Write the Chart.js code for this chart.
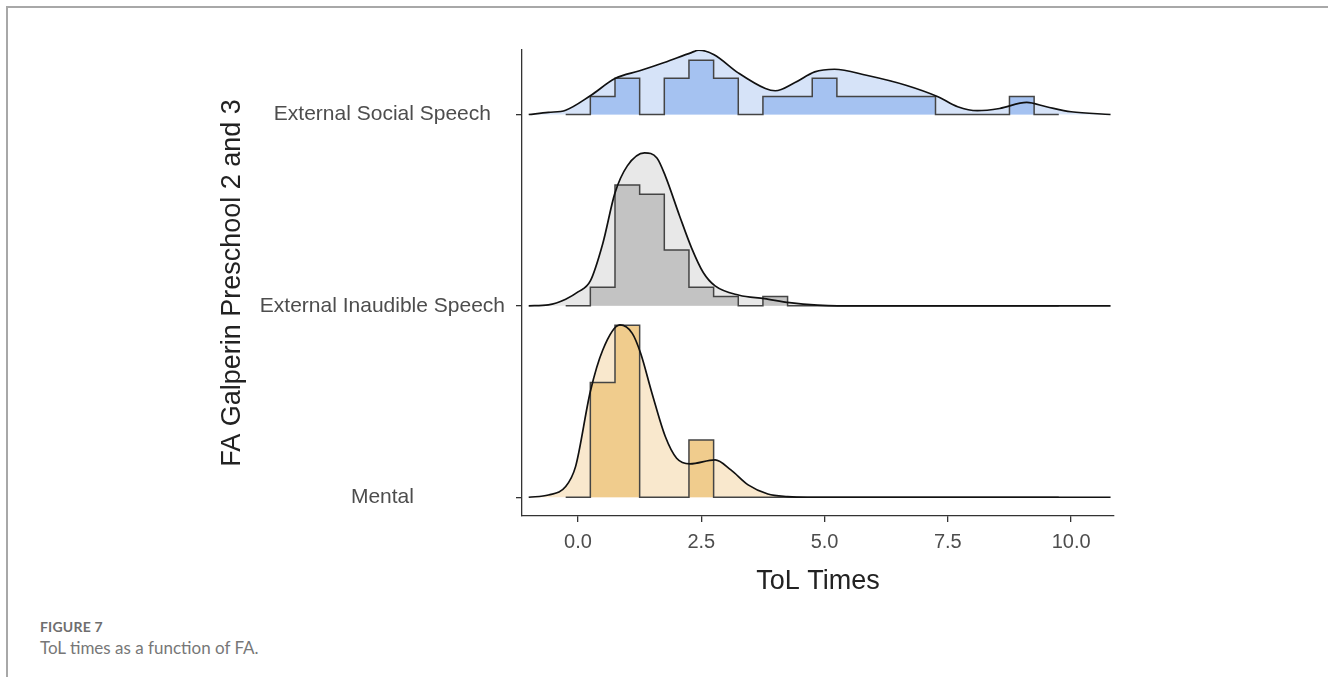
<!DOCTYPE html>
<html>
<head>
<meta charset="utf-8">
<title>ToL times as a function of FA</title>
<script src="https://cdn.jsdelivr.net/npm/chart.js@4.4.1/dist/chart.umd.min.js"></script>
<style>
  html, body { margin: 0; padding: 0; background: #fff; }
  body { width: 1328px; height: 677px; position: relative; overflow: hidden; }
  .frame { position: absolute; left: 6px; top: 6px; right: -10px; bottom: -10px;
           border-left: 2px solid #a8a8a8; border-top: 2px solid #a8a8a8; }
  #chart-box { position: absolute; left: 0; top: 0; width: 1328px; height: 600px; }
  .caption { position: absolute; left: 40px; top: 618px; font-family: Lato, "Open Sans", sans-serif; color: #6e6e6e; }
  .caption .fig { font-size: 14px; font-weight: 700; letter-spacing: 0.2px; }
  .caption .txt { font-size: 17px; margin-top: 2px; color: #777; }
</style>
</head>
<body>
<div class="frame"></div>
<div id="chart-box"><canvas id="ridges" width="1328" height="600"></canvas></div>
<div class="caption">
  <div class="fig">FIGURE 7</div>
  <div class="txt">ToL times as a function of FA.</div>
</div>

<script>
// Groups, bottom row first
const groups = ["Mental", "External Inaudible Speech", "External Social Speech"];

// Histogram bins (width 0.5), left edges plus the closing edge
const binWidth = 0.5;
const binEdges = [-0.25, 0.25, 0.75, 1.25, 1.75, 2.25, 2.75, 3.25, 3.75, 4.25,
                  4.75, 5.25, 5.75, 6.25, 6.75, 7.25, 7.75, 8.25, 8.75, 9.25, 9.75];

// Counts per bin
const countsMental = [0, 2, 3, 0, 0, 1, 0, 0, 0, 0, 0, 0, 0, 0, 0, 0, 0, 0, 0, 0];
const countsInaudible = [0, 2, 13, 12, 6, 2, 1, 0, 1, 0, 0, 0, 0, 0, 0, 0, 0, 0, 0, 0];
const countsSocial = [0, 1, 2, 0, 2, 3, 2, 0, 1, 1, 2, 1, 1, 1, 1, 0, 0, 0, 1, 0];

// Kernel density estimates (x, density)
const densXMental = [-1.0, -0.6, -0.25, -0.05, 0.25, 0.5, 0.85, 1.1, 1.27, 1.5, 1.77, 2.0, 2.27, 2.78, 3.1, 3.45, 3.85, 4.25, 4.65, 10.8];
const densYMental = [0, 0.013, 0.062, 0.178, 0.615, 0.855, 1.002, 0.953, 0.837, 0.605, 0.353, 0.227, 0.194, 0.217, 0.159, 0.072, 0.019, 0.004, 0, 0];

const densXInaudible = [-1.0, -0.6, -0.25, 0.0, 0.25, 0.5, 0.75, 1.0, 1.35, 1.6, 1.77, 2.06, 2.3, 2.54, 2.78, 3.27, 3.78, 4.29, 4.86, 5.26, 10.8];
const densYInaudible = [0, 0.006, 0.039, 0.081, 0.145, 0.36, 0.657, 0.814, 0.890, 0.860, 0.756, 0.523, 0.339, 0.194, 0.116, 0.062, 0.042, 0.019, 0.004, 0, 0];

const densXSocial = [-1.0, -0.6, -0.25, 0.25, 0.75, 1.25, 1.75, 2.3, 2.45, 2.75, 3.25, 3.8, 4.0, 4.4, 4.8, 5.2, 5.85, 6.65, 7.3, 7.7, 8.1, 8.55, 9.1, 9.5, 10.0, 10.8];
const densYSocial = [0, 0.012, 0.025, 0.109, 0.209, 0.254, 0.302, 0.360, 0.374, 0.349, 0.242, 0.151, 0.138, 0.186, 0.248, 0.263, 0.228, 0.170, 0.103, 0.045, 0.022, 0.035, 0.070, 0.045, 0.016, 0];

// X axis ticks
const xTicks = [0, 2.5, 5, 7.5, 10];
const xTickLabels = ["0.0", "2.5", "5.0", "7.5", "10.0"];

// How tall one unit of density is, in rows
const rowPerDensity = 172 / 191.4;

const ridges = [
  { row: 0, counts: countsMental, dx: densXMental, dy: densYMental, area: "#f9e8cd", bars: "#f0cc8d" },
  { row: 1, counts: countsInaudible, dx: densXInaudible, dy: densYInaudible, area: "#e8e8e8", bars: "#c3c3c3" },
  { row: 2, counts: countsSocial, dx: densXSocial, dy: densYSocial, area: "#d6e3f8", bars: "#a5c2f1" },
];

const datasets = [];
ridges.forEach(r => {
  const total = r.counts.reduce((a, b) => a + b, 0);
  const histPts = binEdges.map((x, i) => {
    const c = i < r.counts.length ? r.counts[i] : 0;
    return { x: x, y: r.row + c / (total * binWidth) * rowPerDensity };
  });
  const densPts = r.dx.map((x, i) => ({ x: x, y: r.row + r.dy[i] * rowPerDensity }));

  // density area underneath
  datasets.push({
    data: densPts, fill: { value: r.row }, backgroundColor: r.area,
    borderWidth: 0, pointRadius: 0, cubicInterpolationMode: "monotone", order: 3,
  });
  // histogram outline and bars
  datasets.push({
    data: histPts, stepped: "before", fill: { value: r.row }, backgroundColor: r.bars,
    borderColor: "#444444", borderWidth: 1.5, pointRadius: 0, order: 2,
  });
  // density curve on top
  datasets.push({
    data: densPts, fill: false, borderColor: "#111111", borderWidth: 1.7,
    pointRadius: 0, cubicInterpolationMode: "monotone", order: 1,
  });
});

const axisFont = "'Liberation Sans', Arial, sans-serif";

new Chart(document.getElementById("ridges"), {
  type: "line",
  data: { datasets: datasets },
  options: {
    responsive: false,
    animation: false,
    devicePixelRatio: 1,
    layout: { padding: { top: 50, right: 214, left: 0, bottom: 0 } },
    plugins: { legend: { display: false }, tooltip: { enabled: false } },
    scales: {
      x: {
        type: "linear", min: -1.136, max: 10.87,
        afterBuildTicks: s => { s.ticks = xTicks.map(v => ({ value: v })); },
        afterFit: s => { s.height = 84; },
        ticks: {
          autoSkip: false, maxRotation: 0, padding: 8, color: "#4d4d4d",
          font: { family: axisFont, size: 20 },
          callback: (v, i) => xTickLabels[i],
        },
        grid: { display: true, drawOnChartArea: false, drawTicks: true, tickLength: 6, color: "#333", lineWidth: 1.3 },
        border: { display: true, color: "#333", width: 1.3 },
        title: {
          display: true, text: "ToL Times", color: "#222",
          font: { family: axisFont, size: 27 }, padding: { top: 0, bottom: 2 },
        },
      },
      y: {
        type: "linear", min: -0.098, max: 2.337,
        afterBuildTicks: s => { s.ticks = [0, 1, 2].map(v => ({ value: v })); },
        afterFit: s => { s.width = 522; },
        ticks: {
          autoSkip: false, crossAlign: "center", padding: 11, color: "#4d4d4d",
          font: { family: axisFont, size: 21 },
          callback: v => groups[v],
        },
        grid: { display: true, drawOnChartArea: false, drawTicks: true, tickLength: 6, color: "#333", lineWidth: 1.3 },
        border: { display: true, color: "#333", width: 1.3 },
        title: {
          display: true, text: "FA Galperin Preschool 2 and 3", color: "#222",
          font: { family: axisFont, size: 27 }, padding: { top: 216, bottom: 0 },
        },
      },
    },
  },
});
</script>
</body>
</html>
